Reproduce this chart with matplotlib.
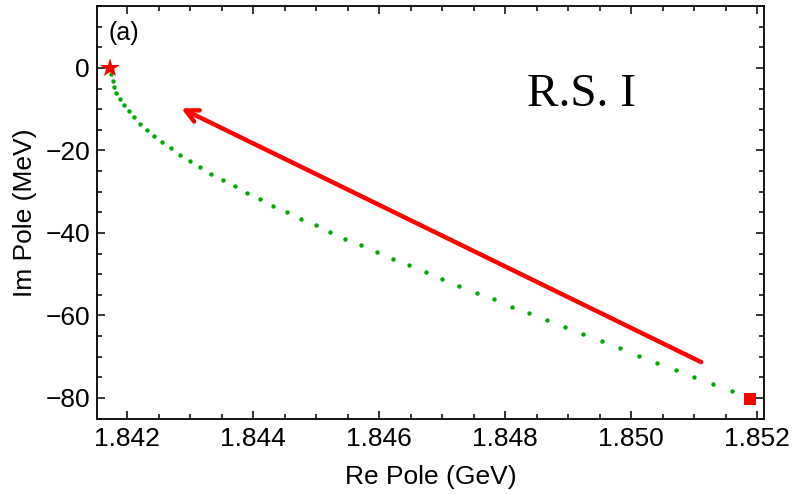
import matplotlib.pyplot as plt
import numpy as np
from matplotlib.ticker import MultipleLocator

# Pole trajectory -----------------------------------------------------
re_pole = [1.841746, 1.841773, 1.841794, 1.841825, 1.841878, 1.841941, 1.842021,
           1.842106, 1.842202, 1.842313, 1.842429, 1.842556, 1.842687, 1.842837,
           1.842995, 1.843159, 1.843333, 1.843513, 1.843703, 1.843900, 1.844106,
           1.844317, 1.844535, 1.844762, 1.844989, 1.845222, 1.845465, 1.845710,
           1.845963, 1.846217, 1.846476, 1.846741, 1.847005, 1.847275, 1.847551,
           1.847825, 1.848106, 1.848386, 1.848667, 1.848952, 1.849243, 1.849535,
           1.849825, 1.850122, 1.850413, 1.850710, 1.851005, 1.851302, 1.851598]
im_pole = [-1.45, -3.08, -4.68, -6.13, -7.59, -9.04, -10.50, -11.95, -13.50, -14.96,
           -16.48, -18.01, -19.47, -21.02, -22.55, -24.07, -25.62, -27.15, -28.68,
           -30.25, -31.83, -33.38, -34.98, -36.61, -38.13, -39.76, -41.38, -42.98,
           -44.61, -46.23, -47.83, -49.45, -51.15, -52.78, -54.47, -56.07, -57.87,
           -59.47, -61.16, -62.86, -64.56, -66.25, -67.95, -69.75, -71.44, -73.21,
           -74.91, -76.68, -78.38]
start_pt = (1.841730, 0.0)      # star
end_pt   = (1.851889, -80.24)   # square
arrow_tail = (1.851111, -71.3)
arrow_head = (1.842857, -9.8)

plt.rcParams['font.family'] = ['Liberation Sans', 'DejaVu Sans']

fig = plt.figure(figsize=(7.94, 4.94), dpi=100)
ax = fig.add_axes([0.1222, 0.1518, 0.84, 0.8361])

ax.plot(re_pole, im_pole, linestyle='none', marker='o', markersize=3.2,
        color='#00aa00', markeredgewidth=0)
ax.plot(*start_pt, marker='*', markersize=15, color='#ff0000', markeredgewidth=0, clip_on=False)
ax.plot(*end_pt, marker='s', markersize=8, color='#ff0000', markeredgewidth=0)

ax.annotate('', xy=arrow_head, xytext=arrow_tail,
            arrowprops=dict(arrowstyle='->,head_length=0.9,head_width=0.45',
                            color='#ff0000', lw=3.2, shrinkA=0, shrinkB=0))

ax.text(0.0165, 0.935, '(a)', transform=ax.transAxes, fontsize=18, ha='left', va='center')
ax.text(0.727, 0.785, 'R.S. I', transform=ax.transAxes, fontsize=34,
        family='Liberation Serif', ha='center', va='center')

ax.set_xlim(1.84152, 1.85211)
ax.set_ylim(-85.1, 15)
ax.xaxis.set_major_locator(MultipleLocator(0.002))
ax.xaxis.set_minor_locator(MultipleLocator(0.0005))
ax.yaxis.set_major_locator(MultipleLocator(20))
ax.yaxis.set_minor_locator(MultipleLocator(5))
ax.xaxis.set_major_formatter(plt.FuncFormatter(lambda v, p: '%.3f' % v))
ax.yaxis.set_major_formatter(plt.FuncFormatter(lambda v, p: '%d' % v if v >= 0 else '\u2212%d' % -v))

ax.tick_params(which='both', direction='in', top=True, right=True, labelsize=19, width=1.1)
ax.tick_params(which='major', length=6)
ax.tick_params(which='minor', length=3.5)
ax.tick_params(axis='x', pad=6)
ax.tick_params(axis='y', pad=5)
for s in ax.spines.values():
    s.set_linewidth(1.3)

ax.set_xlabel('Re Pole (GeV)', fontsize=19, labelpad=10)
ax.set_ylabel('Im Pole (MeV)', fontsize=19, labelpad=6)

fig.savefig('out.png', dpi=100)
